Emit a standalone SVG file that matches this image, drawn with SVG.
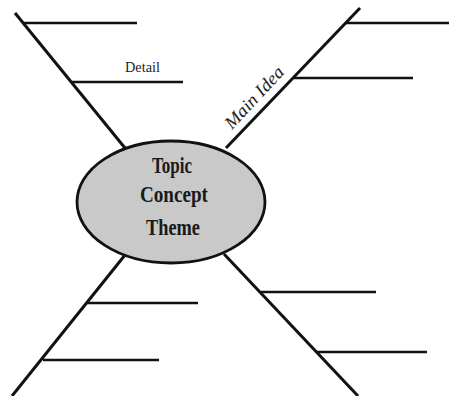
<svg xmlns="http://www.w3.org/2000/svg" width="449" height="396" viewBox="0 0 449 396">
<style>
.diag{stroke:#111;stroke-width:3;stroke-linecap:butt;fill:none}
.hl{stroke:#111;stroke-width:2.6;fill:none}
.topic{font-family:"Liberation Serif",serif;font-weight:bold;font-size:23px;fill:#1a1a1a;text-anchor:middle}
.lbl{font-family:"Liberation Serif",serif;fill:#222}
</style>
<rect width="449" height="396" fill="#fff"/>
<g id="connectors">
<line class="diag" x1="15" y1="13" x2="125" y2="148"/>
<line class="diag" x1="360" y1="8" x2="226" y2="148"/>
<line class="diag" x1="125" y1="255" x2="12" y2="396"/>
<line class="diag" x1="224" y1="254" x2="358" y2="396"/>
<line class="hl" x1="23" y1="23" x2="137" y2="23"/>
<line class="hl" x1="71" y1="82" x2="183" y2="82"/>
<line class="hl" x1="346" y1="23" x2="449" y2="23"/>
<line class="hl" x1="294" y1="78" x2="413" y2="78"/>
<line class="hl" x1="87" y1="303" x2="198" y2="303"/>
<line class="hl" x1="43" y1="360" x2="159" y2="360"/>
<line class="hl" x1="261" y1="292" x2="376" y2="292"/>
<line class="hl" x1="317" y1="352" x2="427" y2="352"/>
</g>
<g id="detail-label">
<text class="lbl" x="125" y="72" font-size="14" textLength="35" lengthAdjust="spacingAndGlyphs">Detail</text>
</g>
<g id="main-idea-label">
<text class="lbl" transform="translate(232,130) rotate(-47)" font-size="18" font-style="italic" textLength="78" lengthAdjust="spacingAndGlyphs">Main Idea</text>
</g>
<g id="topic">
<ellipse cx="171" cy="202" rx="94" ry="61" fill="#c9c9c9" stroke="#111" stroke-width="2.8"/>
<text class="topic" x="172" y="173" textLength="40" lengthAdjust="spacingAndGlyphs">Topic</text>
<text class="topic" x="174" y="202" textLength="68" lengthAdjust="spacingAndGlyphs">Concept</text>
<text class="topic" x="173" y="235" textLength="54" lengthAdjust="spacingAndGlyphs">Theme</text>
</g>
</svg>
